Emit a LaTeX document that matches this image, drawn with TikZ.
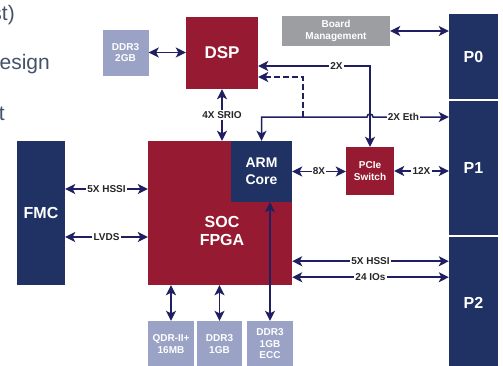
\documentclass[tikz,border=0pt]{standalone}
\usepackage{fontspec}
\setmainfont{Liberation Sans}
\usetikzlibrary{arrows.meta,calc}

\definecolor{socred}{HTML}{961B32}
\definecolor{navy}{HTML}{1F3263}
\definecolor{memblue}{HTML}{9AA3C5}
\definecolor{mgmtgray}{HTML}{9D9EA1}
\definecolor{linkblue}{HTML}{1F1F62}
\definecolor{slidetext}{HTML}{45526A}

\tikzset{
  blk/.style={inner sep=0pt, align=center, text=white, font=\bfseries},
  redblk/.style={blk, fill=socred},
  navyblk/.style={blk, fill=navy},
  portblk/.style={navyblk, minimum width=49, font=\bfseries\fontsize{16}{18}\selectfont},
  memblk/.style={blk, fill=memblue, minimum width=46, minimum height=46,
    font=\bfseries\fontsize{10}{11.5}\selectfont},
  mgmtblk/.style={blk, fill=mgmtgray, minimum width=108, minimum height=30,
    font=\bfseries\fontsize{10}{11.5}\selectfont},
  link/.style={draw=linkblue, line width=1.5pt},
  lbl/.style={fill=white, inner sep=1.2pt, text=black!85,
    font=\bfseries\fontsize{10}{11}\selectfont},
  slide/.style={inner sep=0pt, text=slidetext, font=\fontsize{21}{24}\selectfont}
}

\begin{document}
\begin{tikzpicture}[x=1pt, y=-1pt, >={Stealth[length=10pt,width=10pt,inset=2.5pt]}]
    \useasboundingbox (0,0) rectangle (503,365);
    % cut-off slide text
    \node [slide, anchor=east] (txta) at (15,15) {st)};
    \node [slide, anchor=east] (txtb) at (50,64) {esign};
    \node [slide, anchor=east] (txtc) at (5,114) {t};
    % blocks
    \node [memblk] (ddrtwo) at (125.5,52.5) {DDR3\\2GB};
    \node [redblk, minimum width=72, minimum height=72,
        font=\bfseries\fontsize{17}{19}\selectfont] (dsp) at (222,53) {DSP};
    \node [mgmtblk] (mgmt) at (336,31) {Board\\Management};
    \node [portblk, minimum height=85] (pzero) at (473.5,56.5) {P0};
    \node [portblk, minimum height=134] (pone) at (473.5,168) {P1};
    \node [portblk, minimum height=131] (ptwo) at (473.5,302.5) {P2};
    \node [redblk, minimum width=144, minimum height=144] (soc) at (220,213) {};
    \node [blk, font=\bfseries\fontsize{16}{18}\selectfont] (soctxt) at (222,231) {SOC\\FPGA};
    \node [navyblk, minimum width=61, minimum height=61,
        font=\bfseries\fontsize{14}{17}\selectfont] (arm) at (261.5,171.5) {ARM\\Core};
    \node [navyblk, minimum width=48, minimum height=144,
        font=\bfseries\fontsize{16}{18}\selectfont] (fmc) at (41,213) {FMC};
    \node [redblk, minimum width=48, minimum height=48,
        font=\bfseries\fontsize{10}{12}\selectfont] (pcie) at (370,171) {PCIe\\Switch};
    \node [memblk] (qdr) at (171,344) {QDR-II+\\16MB};
    \node [memblk, minimum width=45] (ddrone) at (219.5,344) {DDR3\\1GB};
    \node [memblk] (ddrecc) at (270,344) {DDR3\\1GB\\ECC};
    \coordinate (ethy) at (0,117);
    \coordinate (dashturn) at (303,117);
    % connectors
    \draw [link, <->] (ddrtwo.east) -- (ddrtwo.east -| dsp.west);
    \draw [link, <->] (mgmt.east) -- (mgmt.east -| pzero.west);
    \draw [link, <->] (dsp.south) -- node[lbl] {4X SRIO} (dsp.south |- soc.north);
    \draw [link, <->] ([yshift=-13pt]dsp.east) -- node[lbl, pos=0.7] {2X}
        ([yshift=-13pt]dsp.east -| pcie.north) -- (pcie.north);
    \draw [link, <-, dash pattern=on 6pt off 3pt] ([yshift=-24pt]dsp.east) -| (dashturn);
    \draw [link, <->] (arm.north) |- ([xshift=-3pt]pcie.north |- ethy) arc (180:360:3)
        -- node[lbl, pos=0.4] {2X Eth} (ethy -| pone.west);
    \draw [link, <->] (arm.east) -- node[lbl] {8X} (arm.east -| pcie.west);
    \draw [link, <->] (pcie.east) -- node[lbl] {12X} (pcie.east -| pone.west);
    \draw [link, <->] ([yshift=24pt]fmc.east) -- node[lbl] {5X HSSI} ([yshift=24pt]fmc.east -| soc.west);
    \draw [link, <->] ([yshift=-24pt]fmc.east) -- node[lbl] {LVDS} ([yshift=-24pt]fmc.east -| soc.west);
    \draw [link, <->] ([yshift=24pt]soc.south east) -- node[lbl] {5X HSSI} ([yshift=24pt]soc.south east -| ptwo.west);
    \draw [link, <->] ([yshift=8pt]soc.south east) -- node[lbl] {24 IOs} ([yshift=8pt]soc.south east -| ptwo.west);
    \draw [link, <->] (qdr.north) -- (qdr.north |- soc.south);
    \draw [link, <->] (ddrone.north) -- (ddrone.north |- soc.south);
    \draw [link, <->] (ddrecc.north) -- (ddrecc.north |- arm.south);
\end{tikzpicture}
\end{document}
